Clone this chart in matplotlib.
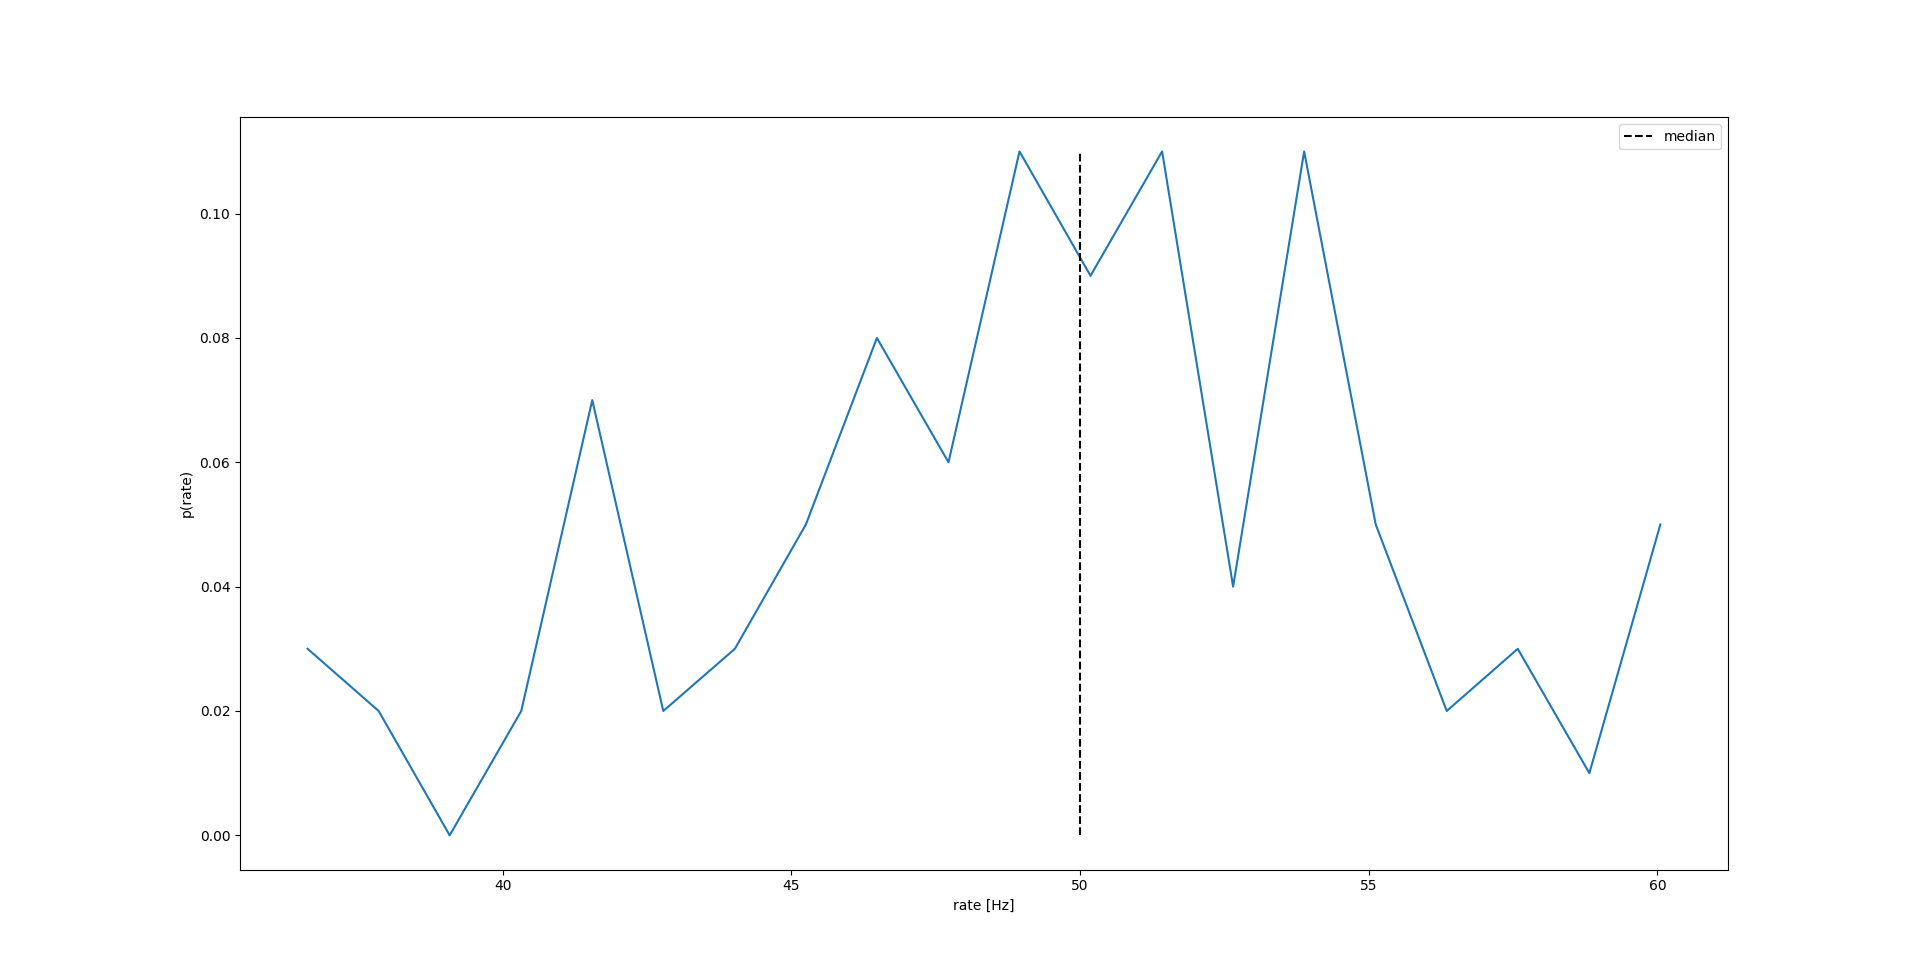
import matplotlib
matplotlib.use("Agg")
import matplotlib.pyplot as plt

rate = [36.62, 37.85, 39.08, 40.32, 41.55, 42.78, 44.02, 45.25, 46.48, 47.72,
        48.95, 50.18, 51.42, 52.65, 53.88, 55.12, 56.35, 57.58, 58.82, 60.05]
p_rate = [0.03, 0.02, 0.00, 0.02, 0.07, 0.02, 0.03, 0.05, 0.08, 0.06,
          0.11, 0.09, 0.11, 0.04, 0.11, 0.05, 0.02, 0.03, 0.01, 0.05]
median = 50.0


def main():
    fig = plt.figure(figsize=(19.2, 9.77), dpi=100)
    ax = fig.add_subplot(111)
    ax.plot(rate, p_rate)
    ax.vlines(median, 0, max(p_rate), colors="k", linestyles="--", label="median")
    ax.set_xlabel("rate [Hz]")
    ax.set_ylabel("p(rate)")
    ax.legend()
    fig.savefig("out.png", dpi=100)


if __name__ == "__main__":
    main()
